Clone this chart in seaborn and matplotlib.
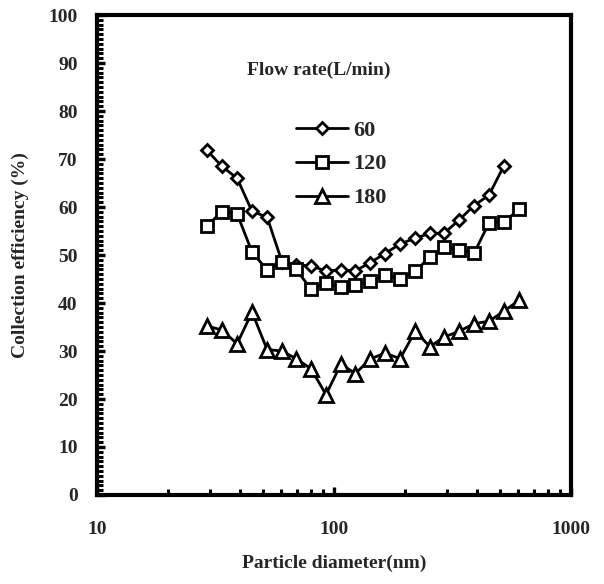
import matplotlib
matplotlib.use("Agg")
import matplotlib.pyplot as plt
import matplotlib.ticker as ticker
import seaborn as sns
import pandas as pd

# particle diameter (nm)
diam = [29.0, 33.6, 39.0, 45.1, 52.2, 60.3, 69.2, 80.0, 92.5, 107, 123,
        142, 164, 190, 220, 254, 291, 337, 390, 451, 521, 604]

# collection efficiency (%) per flow rate
eff_60 = [71.9, 68.5, 66.0, 59.1, 57.9, 48.6, 48.0, 47.7, 46.7, 46.9, 46.7,
          48.4, 50.3, 52.3, 53.5, 54.5, 54.5, 57.3, 60.3, 62.5, 68.6]
eff_120 = [56.0, 59.0, 58.6, 50.6, 46.9, 48.6, 47.0, 42.9, 44.2, 43.3, 43.7,
           44.6, 45.8, 45.1, 46.6, 49.6, 51.6, 51.1, 50.4, 56.7, 56.9, 59.5]
eff_180 = [35.2, 34.4, 31.5, 38.1, 30.3, 30.0, 28.4, 26.3, 20.9, 27.3, 25.3,
           28.3, 29.6, 28.4, 34.1, 30.9, 32.9, 34.1, 35.7, 36.2, 38.3, 40.6]

flow_rates = ["60", "120", "180"]


def main():
    sns.set_style("ticks")
    plt.rcParams['font.family'] = ['Liberation Serif', 'DejaVu Serif']
    plt.rcParams['font.weight'] = 'bold'
    plt.rcParams['axes.labelweight'] = 'bold'

    frames = []
    for name, vals in zip(flow_rates, [eff_60, eff_120, eff_180]):
        frames.append(pd.DataFrame({"diameter": diam[:len(vals)],
                                    "efficiency": vals,
                                    "flow": name}))
    df = pd.concat(frames, ignore_index=True)

    fig = plt.figure(figsize=(6.04, 5.84), dpi=100)
    ax = fig.add_axes([0.1606, 0.1524, 0.7848, 0.8219])

    sns.lineplot(data=df, x="diameter", y="efficiency", style="flow",
                 style_order=flow_rates,
                 markers={"60": "D", "120": "s", "180": "^"}, dashes=False,
                 color="black", linewidth=2.0, markerfacecolor="white",
                 markeredgecolor="black", markeredgewidth=2.0,
                 legend=False, ax=ax)

    lines = ax.get_lines()
    for line, ms in zip(lines, [6.5, 8.5, 9.5]):
        line.set_markersize(ms)

    ax.set_xscale("log")
    ax.set_xlim(10, 1000)
    ax.set_ylim(0, 100)
    ax.xaxis.set_major_locator(ticker.LogLocator(base=10))
    ax.xaxis.set_minor_locator(ticker.LogLocator(base=10, subs=range(2, 10)))
    ax.xaxis.set_major_formatter(ticker.FuncFormatter(lambda x, pos: '{0:g}'.format(x)))
    ax.xaxis.set_minor_formatter(ticker.NullFormatter())
    ax.yaxis.set_major_locator(ticker.MultipleLocator(10))
    ax.yaxis.set_minor_locator(ticker.MultipleLocator(1))

    for s in ax.spines.values():
        s.set_visible(True)
        s.set_linewidth(3.0)
        s.set_color("black")

    ax.tick_params(which="major", direction="in", length=6, width=2.4,
                   labelsize=14, color="black")
    ax.tick_params(which="minor", direction="in", length=4.5, width=2.2,
                   color="black")
    ax.tick_params(axis="y", which="both", pad=14, right=False)
    ax.tick_params(axis="x", which="both", pad=19, top=False)
    for lab in ax.get_xticklabels() + ax.get_yticklabels():
        lab.set_fontweight("bold")

    ax.set_xlabel("Particle diameter(nm)", fontsize=14, fontweight="bold",
                  labelpad=12)
    ax.set_ylabel("Collection efficiency (%)", fontsize=14, fontweight="bold",
                  labelpad=14)

    ax.text(0.468, 0.885, "Flow rate(L/min)", transform=ax.transAxes,
            ha="center", va="center", fontsize=14, fontweight="bold")
    ax.legend(lines, flow_rates, loc="upper left",
              bbox_to_anchor=(0.378, 0.823), frameon=False,
              handlelength=2.35, handletextpad=0.23, labelspacing=0.6,
              prop={"size": 16, "weight": "bold"})

    fig.savefig("out.png", dpi=100)


if __name__ == "__main__":
    main()
